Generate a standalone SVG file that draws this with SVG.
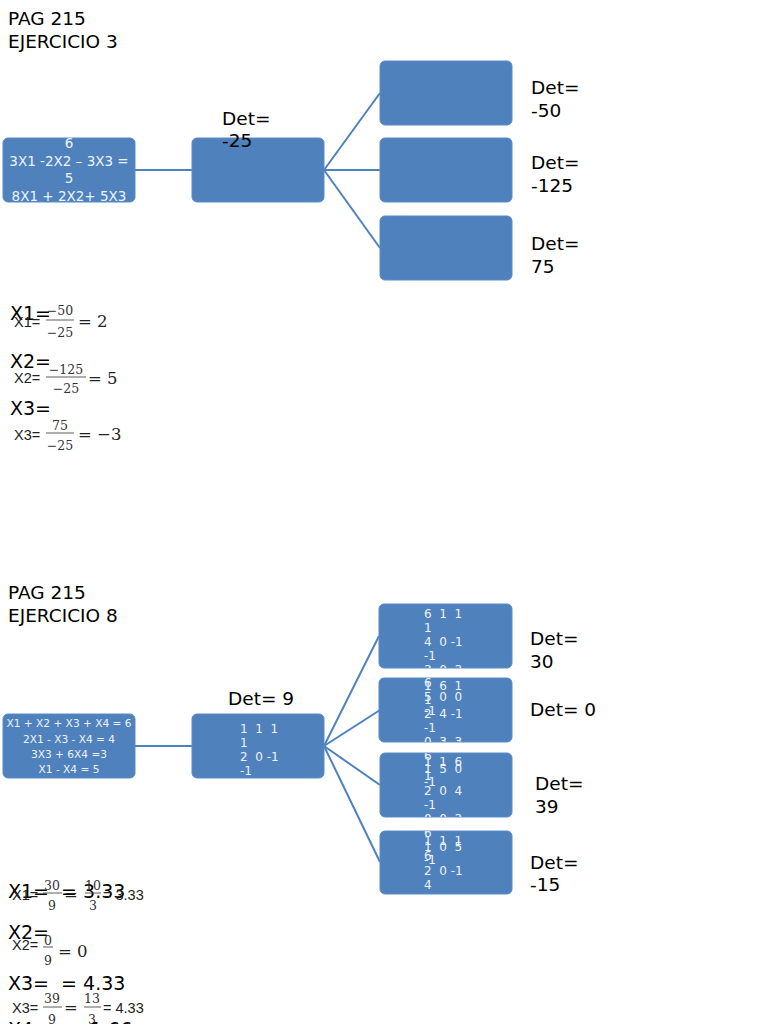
<svg xmlns="http://www.w3.org/2000/svg" width="768" height="1024" viewBox="0 0 768 1024">
<style>
.box{fill:#4F81BD;stroke:#5B8BC6;stroke-width:1}
.con{stroke:#4F81BD;stroke-width:2;fill:none}
.hd{font-family:"DejaVu Sans",sans-serif;font-size:18.5px;fill:#000}
.big{font-family:"DejaVu Sans",sans-serif;font-size:19px;fill:#000;white-space:pre}
.sm{font-family:"Liberation Sans",Arial,sans-serif;font-size:14.5px;fill:#222;white-space:pre}
.fr{font-family:"DejaVu Serif",serif;font-size:12.5px;fill:#333;text-anchor:middle}
.eq{font-family:"DejaVu Serif",serif;font-size:16.5px;fill:#222;white-space:pre}
.fl{stroke:#333;stroke-width:0.8}
.wt{font-family:"DejaVu Sans",sans-serif;fill:#EEF3FA}
.mx{font-family:"DejaVu Sans",sans-serif;font-size:12px;fill:#EEF3FA;white-space:pre}
</style>
<defs>
<clipPath id="clipA"><rect x="3" y="138" width="132" height="64" rx="5"/></clipPath>
<clipPath id="clipE"><rect x="192" y="714" width="132" height="64" rx="5"/></clipPath>
<clipPath id="clipF">
<rect x="379" y="604" width="133" height="64" rx="5"/>
<rect x="379" y="678" width="133" height="64" rx="5"/>
<rect x="380" y="753" width="132" height="64" rx="5"/>
<rect x="380" y="831" width="132" height="63" rx="5"/>
</clipPath>
</defs>

<g id="headers">
<text class="hd" x="8" y="25">PAG 215</text>
<text class="hd" x="8" y="48">EJERCICIO 3</text>
<text class="hd" x="8" y="599">PAG 215</text>
<text class="hd" x="8" y="622">EJERCICIO 8</text>
</g>

<g id="connectors">
<line class="con" x1="135" y1="170" x2="192" y2="170"/>
<line class="con" x1="324" y1="170" x2="380" y2="93"/>
<line class="con" x1="324" y1="170" x2="380" y2="170"/>
<line class="con" x1="324" y1="170" x2="380" y2="248"/>
<line class="con" x1="135" y1="746" x2="192" y2="746"/>
<line class="con" x1="324" y1="746" x2="379" y2="636"/>
<line class="con" x1="324" y1="746" x2="380" y2="710"/>
<line class="con" x1="324" y1="746" x2="380" y2="785"/>
<line class="con" x1="324" y1="746" x2="380" y2="862"/>
</g>

<g id="nodeA">
<rect class="box" x="3" y="138" width="132" height="64" rx="5"/>
<g clip-path="url(#clipA)">
<text class="wt" font-size="13.5" text-anchor="middle" x="69" y="148">6</text>
<text class="wt" font-size="13.5" text-anchor="middle" x="69" y="166">3X1 -2X2 – 3X3 =</text>
<text class="wt" font-size="13.5" text-anchor="middle" x="69" y="183">5</text>
<text class="wt" font-size="13.5" text-anchor="middle" x="69" y="201">8X1 + 2X2+ 5X3</text>
</g>
</g>
<g id="nodeB">
<rect class="box" x="192" y="138" width="132" height="64" rx="5"/>
<text class="hd" x="222" y="125">Det=</text>
<text class="hd" x="222" y="147">-25</text>
</g>
<g id="nodeC1">
<rect class="box" x="380" y="61" width="132" height="64" rx="5"/>
<text class="hd" x="531" y="94">Det=</text>
<text class="hd" x="531" y="117">-50</text>
</g>
<g id="nodeC2">
<rect class="box" x="380" y="138" width="132" height="64" rx="5"/>
<text class="hd" x="531" y="169">Det=</text>
<text class="hd" x="531" y="192">-125</text>
</g>
<g id="nodeC3">
<rect class="box" x="380" y="216" width="132" height="64" rx="5"/>
<text class="hd" x="531" y="250">Det=</text>
<text class="hd" x="531" y="273">75</text>
</g>

<g id="results1">
<text class="big" x="10" y="320" font-size="18.5">X1=</text>
<text class="sm" x="14" y="327" font-size="14.5">X1=</text>
<text class="fr" x="60" y="315">−50</text>
<line class="fl" x1="46" y1="320" x2="74" y2="320"/>
<text class="fr" x="60" y="337">−25</text>
<text class="eq" x="78" y="327">= 2</text>

<text class="big" x="10" y="368" font-size="18.5">X2=</text>
<text class="sm" x="14" y="383" font-size="14.5">X2=</text>
<text class="fr" x="66" y="374">−125</text>
<line class="fl" x1="46" y1="377" x2="86" y2="377"/>
<text class="fr" x="66" y="393">−25</text>
<text class="eq" x="88" y="384">= 5</text>

<text class="big" x="10" y="415" font-size="18.5">X3=</text>
<text class="sm" x="14" y="440" font-size="14.5">X3=</text>
<text class="fr" x="60" y="430">75</text>
<line class="fl" x1="46" y1="433" x2="74" y2="433"/>
<text class="fr" x="60" y="450">−25</text>
<text class="eq" x="78" y="440">= −3</text>
</g>

<g id="nodeD">
<rect class="box" x="3" y="714" width="132" height="64" rx="5"/>
<text class="wt" font-size="10.6" text-anchor="middle" x="69" y="727">X1 + X2 + X3 + X4 = 6</text>
<text class="wt" font-size="10.6" text-anchor="middle" x="69" y="742.5">2X1 - X3 - X4 = 4</text>
<text class="wt" font-size="10.6" text-anchor="middle" x="69" y="758">3X3 + 6X4 =3</text>
<text class="wt" font-size="10.6" text-anchor="middle" x="69" y="773">X1 - X4 = 5</text>
</g>
<g id="nodeE">
<rect class="box" x="192" y="714" width="132" height="64" rx="5"/>
<g clip-path="url(#clipE)">
<text class="mx" x="240" y="733">1  1  1</text>
<text class="mx" x="240" y="747">1</text>
<text class="mx" x="240" y="761">2  0 -1</text>
<text class="mx" x="240" y="775">-1</text>
</g>
<text class="hd" x="228" y="705">Det= 9</text>
</g>

<g id="nodeF1">
<rect class="box" x="379" y="604" width="133" height="64" rx="5"/>
<text class="hd" x="530" y="645">Det=</text>
<text class="hd" x="530" y="668">30</text>
</g>
<g id="nodeF2">
<rect class="box" x="379" y="678" width="133" height="64" rx="5"/>
<text class="hd" x="530" y="716">Det= 0</text>
</g>
<g id="nodeF3">
<rect class="box" x="380" y="753" width="132" height="64" rx="5"/>
<text class="hd" x="535" y="790">Det=</text>
<text class="hd" x="535" y="813">39</text>
</g>
<g id="nodeF4">
<rect class="box" x="380" y="831" width="132" height="63" rx="5"/>
<text class="hd" x="530" y="869">Det=</text>
<text class="hd" x="530" y="891">-15</text>
</g>

<g id="matrixTexts" clip-path="url(#clipF)">
<text class="mx" x="424" y="618">6  1  1</text>
<text class="mx" x="424" y="632">1</text>
<text class="mx" x="424" y="646">4  0 -1</text>
<text class="mx" x="424" y="660">-1</text>
<text class="mx" x="424" y="674">3  0  3</text>
<text class="mx" x="424" y="687">6</text>
<text class="mx" x="424" y="701">5  0  0</text>
<text class="mx" x="424" y="715">-1</text>

<text class="mx" x="424" y="690">1  6  1</text>
<text class="mx" x="424" y="704">1</text>
<text class="mx" x="424" y="718">2  4 -1</text>
<text class="mx" x="424" y="732">-1</text>
<text class="mx" x="424" y="746">0  3  3</text>
<text class="mx" x="424" y="760">6</text>
<text class="mx" x="424" y="773">1  5  0</text>
<text class="mx" x="424" y="786">-1</text>

<text class="mx" x="424" y="766">1  1  6</text>
<text class="mx" x="424" y="780">1</text>
<text class="mx" x="424" y="795">2  0  4</text>
<text class="mx" x="424" y="809">-1</text>
<text class="mx" x="424" y="823">0  0  3</text>
<text class="mx" x="424" y="837">6</text>
<text class="mx" x="424" y="851">1  0  5</text>
<text class="mx" x="424" y="864">-1</text>

<text class="mx" x="424" y="845">1  1  1</text>
<text class="mx" x="424" y="860">6</text>
<text class="mx" x="424" y="875">2  0 -1</text>
<text class="mx" x="424" y="889">4</text>
</g>

<g id="results2">
<text class="big" x="8" y="898">X1=  = 3.33</text>
<text class="sm" x="12" y="900">X1=</text>
<text class="fr" x="52" y="890">30</text>
<line class="fl" x1="43" y1="893" x2="62" y2="893"/>
<text class="fr" x="52" y="910">9</text>
<text class="eq" x="64" y="900">=</text>
<text class="fr" x="93" y="890">10</text>
<line class="fl" x1="85" y1="893" x2="101" y2="893"/>
<text class="fr" x="93" y="910">3</text>
<text class="sm" x="103" y="900" font-size="16">= 3.33</text>

<text class="big" x="8" y="939">X2=</text>
<text class="sm" x="12" y="950">X2=</text>
<text class="fr" x="48" y="945">0</text>
<line class="fl" x1="43" y1="947" x2="53" y2="947"/>
<text class="fr" x="48" y="965">9</text>
<text class="eq" x="58" y="957">= 0</text>

<text class="big" x="8" y="990">X3=  = 4.33</text>
<text class="sm" x="12" y="1013">X3=</text>
<text class="fr" x="52" y="1003">39</text>
<line class="fl" x1="43" y1="1007" x2="62" y2="1007"/>
<text class="fr" x="52" y="1024">9</text>
<text class="eq" x="64" y="1013">=</text>
<text class="fr" x="92" y="1003">13</text>
<line class="fl" x1="84" y1="1007" x2="101" y2="1007"/>
<text class="fr" x="92" y="1024">3</text>
<text class="sm" x="103" y="1013" font-size="16">= 4.33</text>

<text class="big" x="8" y="1036">X4=  = -1.66</text>
</g>
</svg>
